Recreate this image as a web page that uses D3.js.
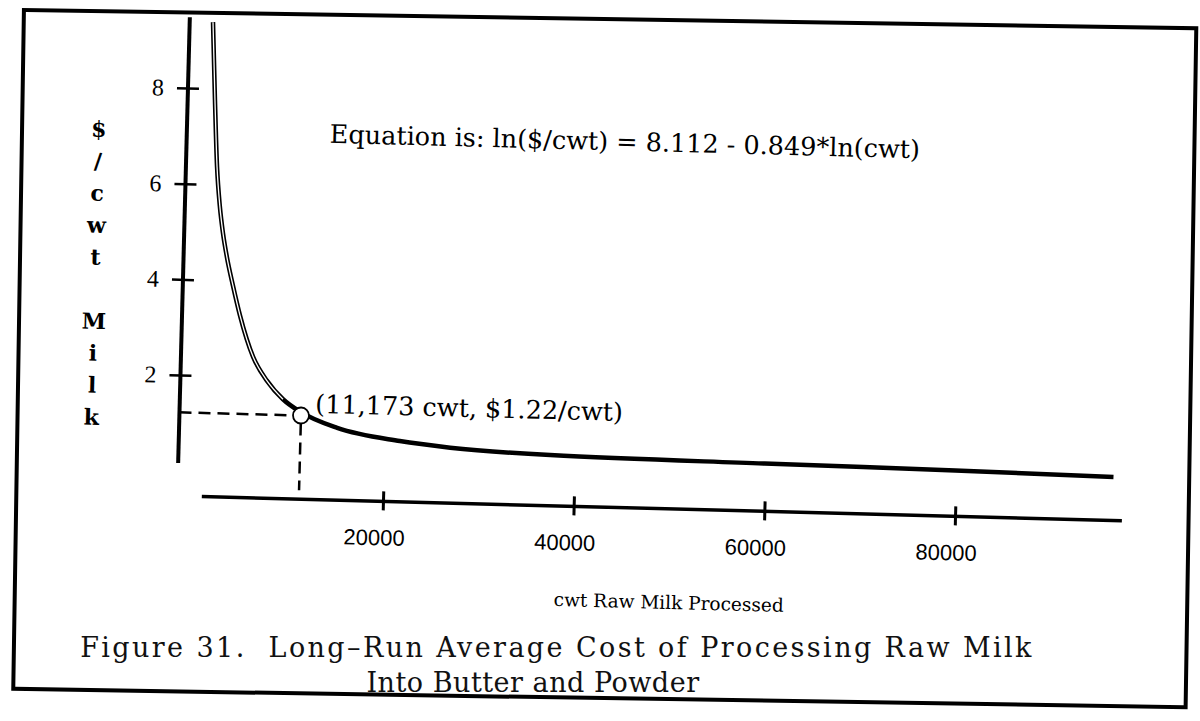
<!DOCTYPE html>
<html>
<head>
<meta charset="utf-8">
<script src="https://cdn.jsdelivr.net/npm/d3@7"></script>
<style>
  html, body { margin: 0; padding: 0; background: #fff; }
  svg { display: block; }
</style>
</head>
<body>
<svg id="lienzo" width="1200" height="721"></svg>
<script>
// valores
const cwt = [870, 1290, 1690, 2090, 2500, 2960, 3680, 4500, 5990, 7500, 9240, 11060, 15000, 21600, 26900, 37400, 59900, 79900, 96500];
const costPerCwt = [9.39, 7.76, 6.37, 5.55, 4.98, 4.50, 3.90, 3.28, 2.42, 1.93, 1.55, 1.30, 0.98, 0.74, 0.63, 0.53, 0.47, 0.43, 0.38];

const xTicks = [20000, 40000, 60000, 80000];
const yTicks = [2, 4, 6, 8];

const markerCwt = 11173;
const markerCost = 1.22;

const equationText = "Equation is: ln($/cwt) = 8.112 - 0.849*ln(cwt)";
const markerText = "(11,173 cwt, $1.22/cwt)";
const yTitle = ["$", "/", "c", "w", "t", "", "M", "i", "l", "k"];
const xTitle = "cwt Raw Milk Processed";
const caption = ["Figure 31.  Long\u2013Run Average Cost of Processing Raw Milk", "Into Butter and Powder"];

const svg = d3.select('#lienzo');
svg.append('rect').attr('width', 1200).attr('height', 721).attr('fill', '#fff');

// marco (el escaneo esta algo girado)
const frame = svg.append('g').attr('transform', 'rotate(0.9 600 360)');
frame.append('rect')
    .attr('x', 18.5).attr('y', 19)
    .attr('width', 1172.5).attr('height', 679)
    .attr('fill', 'none')
    .attr('stroke', '#000')
    .attr('stroke-width', 4);

// pie de figura
svg.selectAll('text.caption')
    .data(caption)
    .enter()
    .append('text')
    .attr('class', 'caption')
    .attr('x', (d, i) => i === 0 ? 557 : 533)
    .attr('y', (d, i) => i === 0 ? 657 : 692)
    .attr('text-anchor', 'middle')
    .attr('font-family', 'DejaVu Serif')
    .attr('font-size', '27px')
    .attr('letter-spacing', (d, i) => i === 0 ? '2.4px' : '0.5px')
    .attr('fill', '#111')
    .style('white-space', 'pre')
    .text(d => d);

// grafico
const chart = svg.append('g').attr('transform', 'rotate(1.5 600 360)');

const x = d3.scaleLinear().domain([0, 80000]).range([196, 959]);
const y = d3.scaleLinear().domain([0, 8]).range([481.7, 98.9]);

const yAxisX = 181;
const xAxisY = 507;

// eje y
const yAxis = chart.append('g')
    .attr('transform', `translate(${yAxisX},0)`)
    .call(d3.axisLeft(y).tickValues(yTicks).tickSizeInner(11).tickSizeOuter(0).tickPadding(13));
yAxis.select('.domain').remove();
yAxis.selectAll('.tick line')
    .attr('x1', 11)
    .attr('stroke', '#000')
    .attr('stroke-width', 2.5);
yAxis.selectAll('.tick text')
    .attr('font-family', 'Liberation Serif')
    .attr('font-size', '24px')
    .attr('fill', '#000');
chart.append('line')
    .attr('x1', yAxisX).attr('x2', yAxisX)
    .attr('y1', y(9.48)).attr('y2', y(0.16))
    .attr('stroke', '#000')
    .attr('stroke-width', 4);

// eje x
const xAxis = chart.append('g')
    .attr('transform', `translate(0,${xAxisY})`)
    .call(d3.axisBottom(x).tickValues(xTicks).tickFormat(d3.format('d')).tickSizeInner(9).tickSizeOuter(0));
xAxis.select('.domain').remove();
xAxis.selectAll('.tick line')
    .attr('y1', -10)
    .attr('stroke', '#000')
    .attr('stroke-width', 3);
xAxis.selectAll('.tick text')
    .attr('y', 44)
    .attr('dy', 0)
    .attr('dx', -8.5)
    .attr('font-family', 'Liberation Sans')
    .attr('font-size', '22px')
    .attr('fill', '#000');
chart.append('line')
    .attr('x1', x(1000)).attr('x2', x(97500))
    .attr('y1', xAxisY).attr('y2', xAxisY)
    .attr('stroke', '#000')
    .attr('stroke-width', 3.5);

// titulos de ejes
chart.selectAll('text.ytitle')
    .data(yTitle)
    .enter()
    .append('text')
    .attr('class', 'ytitle')
    .attr('x', 93)
    .attr('y', (d, i) => 142 + i * 32)
    .attr('text-anchor', 'middle')
    .attr('dominant-baseline', 'central')
    .attr('font-family', 'DejaVu Serif')
    .attr('font-weight', 'bold')
    .attr('font-size', '22px')
    .text(d => d);

chart.append('text')
    .attr('x', 560)
    .attr('y', 607)
    .attr('font-family', 'DejaVu Serif')
    .attr('font-size', '18.5px')
    .text(xTitle);

// curva de costo
const line = d3.line()
    .x(d => x(d[0]))
    .y(d => y(d[1]))
    .curve(d3.curveMonotoneX);

const points = d3.zip(cwt, costPerCwt);

chart.append('path')
    .datum(points)
    .attr('d', line)
    .attr('fill', 'none')
    .attr('stroke', '#000')
    .attr('stroke-width', 4.5);

// en el tramo empinado el trazo escaneado se ve hueco
chart.append('path')
    .datum(points.filter(d => d[0] < 9500))
    .attr('d', line)
    .attr('fill', 'none')
    .attr('stroke', '#fff')
    .attr('stroke-width', 1.3);

// punto marcado con lineas de referencia
const r = 8;
const mx = x(markerCwt);
const my = y(markerCost);

chart.append('line')
    .attr('x1', yAxisX).attr('x2', mx - r)
    .attr('y1', my).attr('y2', my)
    .attr('stroke', '#000')
    .attr('stroke-width', 2.5)
    .attr('stroke-dasharray', '12,7');

chart.append('line')
    .attr('x1', mx).attr('x2', mx)
    .attr('y1', my + r).attr('y2', xAxisY - 9)
    .attr('stroke', '#000')
    .attr('stroke-width', 2.5)
    .attr('stroke-dasharray', '12,7');

chart.append('circle')
    .attr('cx', mx)
    .attr('cy', my)
    .attr('r', r)
    .attr('fill', '#fff')
    .attr('stroke', '#000')
    .attr('stroke-width', 1.8);

chart.append('text')
    .attr('x', mx + 14)
    .attr('y', my - 3)
    .attr('font-family', 'DejaVu Serif')
    .attr('font-size', '25.5px')
    .text(markerText);

chart.append('text')
    .attr('x', 324)
    .attr('y', 150)
    .attr('font-family', 'DejaVu Serif')
    .attr('font-size', '25.5px')
    .text(equationText);
</script>
</body>
</html>
